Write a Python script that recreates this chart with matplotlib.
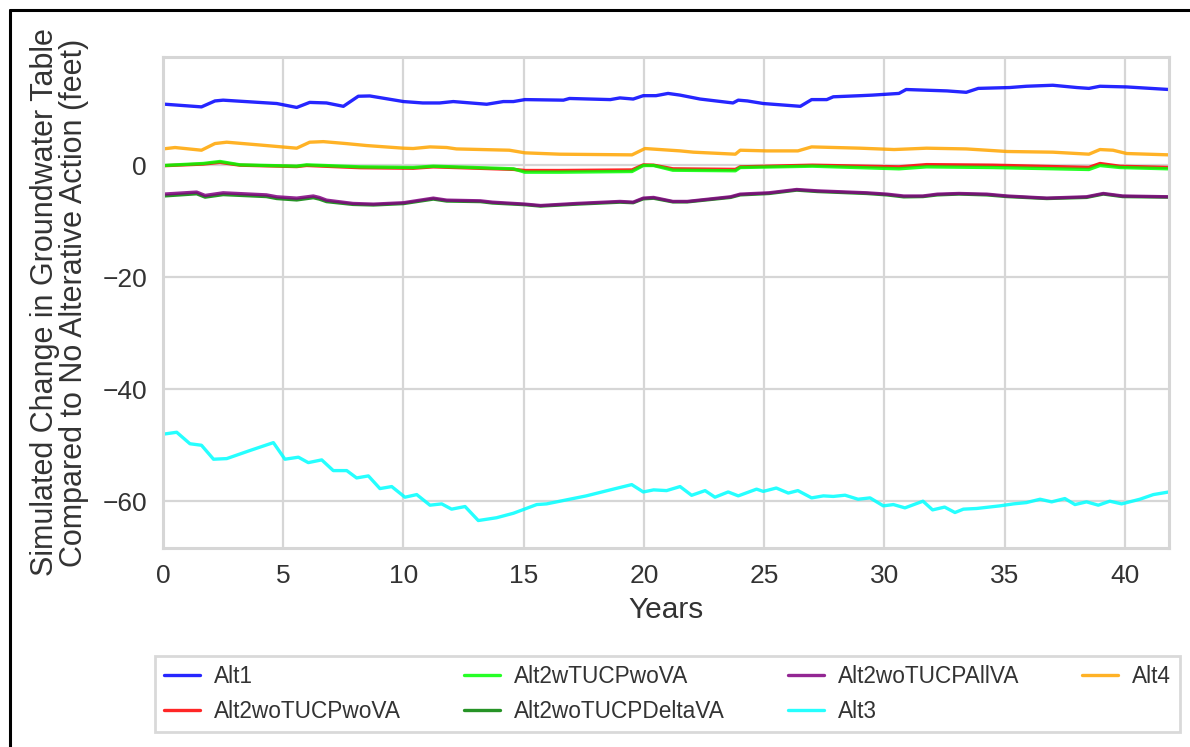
import matplotlib
matplotlib.use("Agg")
import matplotlib.pyplot as plt
from matplotlib.lines import Line2D
import seaborn as sns

# Simulated change in groundwater table (feet) relative to the no-action run
alt1_x = [0, 1.6, 2.16, 2.5, 4.73, 5.56, 6.1, 6.8, 7.5, 8.12, 8.6, 10.0, 10.8, 11.5,
          12.07, 13.46, 14.15, 14.57, 15.05, 16.65, 16.9, 18.6, 19.0, 19.55, 19.97,
          20.5, 21.0, 21.5, 22.33, 23.7, 23.92, 24.3, 24.96, 26.5, 26.97, 27.6, 27.87,
          29.0, 29.5, 30.6, 30.9, 32.6, 33.4, 33.9, 35.2, 35.9, 37.0, 38.0, 38.5,
          38.96, 40.07, 41.83]
alt1_y = [10.9, 10.4, 11.46, 11.6, 11.0, 10.3, 11.2, 11.1, 10.5, 12.3, 12.35, 11.35,
          11.1, 11.1, 11.35, 10.87, 11.35, 11.35, 11.7, 11.6, 11.9, 11.7, 12.0, 11.8,
          12.4, 12.4, 12.8, 12.5, 11.8, 11.1, 11.6, 11.46, 11.0, 10.5, 11.7, 11.7,
          12.2, 12.4, 12.5, 12.8, 13.5, 13.25, 13.0, 13.7, 13.85, 14.08, 14.26, 13.85,
          13.7, 14.08, 13.96, 13.5]

alt2_x = [0, 1.67, 2.37, 3.2, 5.56, 5.97, 8.2, 10.4, 11.24, 14.57, 15.05, 16.5, 19.5,
          19.97, 20.4, 21.2, 23.8, 24.0, 27.0, 30.6, 31.75, 34.5, 38.5, 38.96, 39.8,
          41.83]
alt2_wo_tucp_wo_va = [-0.1, 0.2, 0.5, 0.0, -0.25, -0.05, -0.45, -0.55, -0.3, -0.75,
                      -0.95, -0.95, -0.85, 0.05, 0.0, -0.65, -0.75, -0.3, 0.0, -0.3,
                      0.1, 0.0, -0.4, 0.3, -0.2, -0.4]
alt2_w_tucp_wo_va = [-0.06, 0.3, 0.66, 0.06, -0.18, 0.06, -0.3, -0.42, -0.18, -0.65,
                     -1.25, -1.25, -1.13, -0.06, -0.06, -0.9, -1.0, -0.42, -0.18, -0.65,
                     -0.3, -0.42, -0.77, -0.06, -0.42, -0.65]

va_x = [0, 1.4, 1.75, 2.5, 4.3, 4.73, 5.56, 6.25, 6.5, 6.8, 7.9, 8.75, 10.0, 11.24,
        11.8, 13.2, 13.7, 15.05, 15.7, 17.2, 19.0, 19.55, 19.97, 20.4, 21.2, 21.8, 23.6,
        24.0, 25.2, 26.35, 27.2, 29.26, 30.1, 30.8, 31.6, 32.2, 33.1, 34.25, 35.1, 36.75,
        38.4, 39.1, 39.9, 41.83]
alt2_wo_tucp_delta_va = [-5.5, -5.1, -5.7, -5.25, -5.6, -5.95, -6.2, -5.8, -6.05, -6.5,
                         -7.0, -7.1, -6.85, -6.05, -6.4, -6.5, -6.75, -7.05, -7.3, -6.95,
                         -6.6, -6.7, -6.0, -5.9, -6.55, -6.55, -5.75, -5.3, -5.05, -4.45,
                         -4.7, -5.05, -5.3, -5.65, -5.6, -5.3, -5.15, -5.3, -5.6, -5.95,
                         -5.75, -5.15, -5.6, -5.7]
alt2_wo_tucp_all_va = [-5.17, -4.8, -5.4, -4.93, -5.3, -5.64, -5.88, -5.5, -5.76, -6.24,
                       -6.83, -6.95, -6.7, -5.88, -6.24, -6.36, -6.6, -6.95, -7.2, -6.83,
                       -6.47, -6.6, -5.88, -5.76, -6.47, -6.47, -5.64, -5.17, -4.93,
                       -4.34, -4.58, -4.93, -5.17, -5.5, -5.5, -5.17, -5.05, -5.17, -5.5,
                       -5.88, -5.64, -5.05, -5.5, -5.64]

alt3_x = [0, 0.57, 1.12, 1.6, 2.1, 2.65, 3.6, 4.59, 5.07, 5.63, 6.04, 6.6, 7.08, 7.64,
          8.05, 8.54, 9.02, 9.51, 10.06, 10.55, 11.1, 11.59, 12.0, 12.56, 13.11, 13.87,
          14.57, 15.54, 15.95, 17.6, 18.72, 19.49, 19.97, 20.4, 20.94, 21.5, 21.98,
          22.54, 22.95, 23.5, 23.92, 24.68, 24.96, 25.5, 26.0, 26.4, 26.97, 27.46, 27.87,
          28.36, 28.9, 29.4, 29.95, 30.37, 30.85, 31.6, 32.0, 32.5, 32.93, 33.28, 33.83,
          34.8, 35.36, 35.9, 36.47, 36.95, 37.5, 37.92, 38.4, 38.89, 39.37, 39.86, 40.62,
          41.18, 41.83]
alt3_y = [-48.0, -47.65, -49.7, -49.97, -52.46, -52.35, -50.93, -49.5, -52.46, -52.1,
          -53.07, -52.58, -54.49, -54.49, -55.8, -55.44, -57.7, -57.34, -59.24, -58.77,
          -60.66, -60.43, -61.37, -60.9, -63.4, -62.9, -62.1, -60.55, -60.43, -59.0,
          -57.8, -56.99, -58.3, -57.93, -58.06, -57.34, -58.9, -58.06, -59.24, -58.3,
          -59.0, -57.8, -58.2, -57.6, -58.5, -58.06, -59.36, -59.0, -59.1, -58.88, -59.6,
          -59.36, -60.78, -60.55, -61.14, -59.95, -61.5, -61.0, -61.97, -61.37, -61.25,
          -60.78, -60.43, -60.2, -59.6, -60.07, -59.48, -60.55, -60.07, -60.66, -59.95,
          -60.43, -59.6, -58.77, -58.3]

alt4_x = [0, 0.5, 1.6, 2.16, 2.65, 4.03, 5.56, 6.1, 6.67, 7.6, 8.47, 10.0, 10.4, 11.1,
          11.8, 12.2, 14.4, 15.05, 16.5, 19.5, 20.04, 21.5, 22.05, 23.8, 24.0, 25.1,
          26.4, 26.97, 29.0, 30.4, 31.75, 33.4, 35.1, 37.0, 38.5, 38.96, 39.5, 40.07,
          41.83]
alt4_y = [2.9, 3.15, 2.67, 3.86, 4.1, 3.6, 3.03, 4.1, 4.2, 3.86, 3.5, 3.03, 2.97, 3.26,
          3.15, 2.9, 2.67, 2.2, 1.96, 1.84, 2.97, 2.55, 2.32, 1.96, 2.67, 2.55, 2.55,
          3.26, 3.03, 2.79, 3.03, 2.9, 2.44, 2.32, 1.96, 2.79, 2.67, 2.08, 1.84]

series = [
    ("Alt1", alt1_x, alt1_y, "#0000ff"),
    ("Alt2woTUCPwoVA", alt2_x, alt2_wo_tucp_wo_va, "#ff0000"),
    ("Alt2wTUCPwoVA", alt2_x, alt2_w_tucp_wo_va, "#00ff00"),
    ("Alt2woTUCPDeltaVA", va_x, alt2_wo_tucp_delta_va, "#008000"),
    ("Alt2woTUCPAllVA", va_x, alt2_wo_tucp_all_va, "#800080"),
    ("Alt3", alt3_x, alt3_y, "#00ffff"),
    ("Alt4", alt4_x, alt4_y, "#ffa500"),
]

sns.set_style("whitegrid")
plt.rcParams["font.family"] = ["Liberation Sans", "DejaVu Sans"]
plt.rcParams["axes.unicode_minus"] = True

fig = plt.figure(figsize=(11.9, 7.47), dpi=100)
ax = fig.add_axes([163 / 1190, 1 - 548 / 747, 1006 / 1190, 491 / 747])

for name, xs, ys, color in series:
    ax.plot(xs, ys, color=color, lw=2.4, alpha=0.85, label=name,
            solid_joinstyle="round")

ax.set_xlim(0, 41.83)
ax.set_ylim(-68.3, 19.3)
ax.set_xticks([0, 5, 10, 15, 20, 25, 30, 35, 40])
ax.set_yticks([-60, -40, -20, 0])
ax.tick_params(labelsize=19, colors="0.2", pad=8)
ax.grid(color="0.84", lw=1.6)
for sp in ax.spines.values():
    sp.set_color("0.84")
    sp.set_linewidth(2.2)

ax.set_xlabel("Years", fontsize=21.5, color="0.2", labelpad=6)
ax.set_ylabel("Simulated Change in Groundwater Table\n"
              "Compared to No Alterative Action (feet)",
              fontsize=22, color="0.2", linespacing=0.95)
ax.yaxis.set_label_coords(-0.074, 0.5)

leg = fig.legend(loc="center", ncol=4, mode="expand", fontsize=16.3,
                 bbox_to_anchor=(155 / 1190, 1 - 730 / 747, 1025 / 1190, 72 / 747),
                 bbox_transform=fig.transFigure, borderaxespad=0, fancybox=False,
                 framealpha=1, edgecolor="0.85", handlelength=1.6,
                 handletextpad=0.6, borderpad=0.4, labelspacing=0.5)
leg.get_frame().set_linewidth(2.0)
for t in leg.get_texts():
    t.set_color("0.2")
for h in leg.get_lines():
    h.set_linewidth(2.4)

# dark frame along the top and left edges
fig.add_artist(Line2D([9.5 / 1190, 1], [1 - 9.5 / 747, 1 - 9.5 / 747],
                      transform=fig.transFigure, color="black", lw=2.2))
fig.add_artist(Line2D([9.5 / 1190, 9.5 / 1190], [0, 1 - 9.5 / 747],
                      transform=fig.transFigure, color="black", lw=2.2))

fig.savefig("out.png", dpi=100, facecolor="white")
